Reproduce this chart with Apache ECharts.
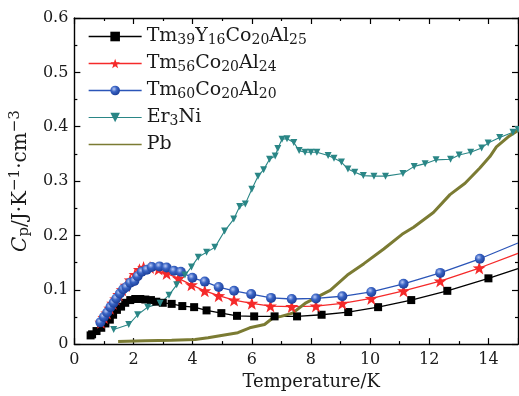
<!DOCTYPE html>
<html>
<head>
    <meta charset="UTF-8">
    <title>Cp</title>
    <script src="https://cdn.jsdelivr.net/npm/echarts@6/dist/echarts.min.js"></script>
    <style>
        html, body { margin: 0; padding: 0; background: #fff; }
        #main { width: 519px; height: 396px; }
    </style>
</head>
<body>
<div id="main"></div>
<script>
    // data, [T(K), Cp]
    var seriesNames = ['Tm39Y16Co20Al25', 'Tm56Co20Al24', 'Tm60Co20Al20', 'Er3Ni', 'Pb'];
    var xTicks = [0, 2, 4, 6, 8, 10, 12, 14];
    var yTicks = [0, 0.1, 0.2, 0.3, 0.4, 0.5, 0.6];

    var tmY = [[0.55, 0.016], [0.6, 0.018], [0.75, 0.024], [0.91, 0.030], [1.05, 0.038], [1.2, 0.045],
        [1.31, 0.054], [1.44, 0.063], [1.58, 0.069], [1.72, 0.076], [1.89, 0.081], [2.06, 0.083],
        [2.23, 0.083], [2.4, 0.082], [2.59, 0.081], [2.77, 0.078], [2.99, 0.076], [3.29, 0.074],
        [3.65, 0.070], [4.05, 0.068], [4.47, 0.062], [4.97, 0.057], [5.5, 0.052], [6.08, 0.051],
        [6.77, 0.051], [7.53, 0.051], [8.36, 0.054], [9.26, 0.059], [10.27, 0.068], [11.39, 0.081],
        [12.61, 0.098], [14.0, 0.121], [15.0, 0.139]];
    var tm56 = [[0.9, 0.040], [1.0, 0.049], [1.1, 0.057], [1.2, 0.066], [1.3, 0.075], [1.4, 0.083],
        [1.5, 0.091], [1.62, 0.100], [1.75, 0.108], [1.89, 0.118], [2.05, 0.128], [2.2, 0.137],
        [2.34, 0.141], [2.56, 0.141], [2.85, 0.138], [3.12, 0.130], [3.52, 0.121], [3.96, 0.109],
        [4.41, 0.098], [4.88, 0.089], [5.4, 0.081], [6.0, 0.075], [6.63, 0.070], [7.35, 0.069],
        [8.17, 0.070], [9.06, 0.075], [10.04, 0.084], [11.13, 0.098], [12.37, 0.116], [13.69, 0.140],
        [15.0, 0.167]];
    var tm60 = [[0.88, 0.040], [1.0, 0.050], [1.11, 0.058], [1.22, 0.068], [1.33, 0.076], [1.42, 0.084],
        [1.54, 0.093], [1.65, 0.101], [1.76, 0.105], [1.89, 0.113], [2.03, 0.116], [2.14, 0.125],
        [2.28, 0.133], [2.45, 0.137], [2.62, 0.142], [2.88, 0.143], [3.12, 0.141], [3.37, 0.135],
        [3.6, 0.133], [3.99, 0.122], [4.41, 0.115], [4.88, 0.105], [5.4, 0.098], [5.98, 0.092],
        [6.65, 0.085], [7.35, 0.083], [8.17, 0.084], [9.06, 0.088], [10.04, 0.096], [11.13, 0.111],
        [12.37, 0.131], [13.71, 0.157], [15.0, 0.186]];
    var er3ni = [[1.33, 0.027], [1.84, 0.036], [2.14, 0.054], [2.48, 0.068], [2.9, 0.075], [3.2, 0.090],
        [3.46, 0.109], [3.74, 0.127], [3.96, 0.142], [4.19, 0.160], [4.47, 0.169], [4.75, 0.178],
        [5.08, 0.208], [5.39, 0.230], [5.59, 0.253], [5.78, 0.258], [6.0, 0.285], [6.21, 0.309],
        [6.4, 0.321], [6.6, 0.340], [6.79, 0.346], [6.88, 0.360], [7.02, 0.377], [7.19, 0.378],
        [7.42, 0.371], [7.6, 0.356], [7.8, 0.353], [8.0, 0.353], [8.2, 0.353], [8.58, 0.347],
        [8.78, 0.342], [9.03, 0.335], [9.25, 0.322], [9.48, 0.316], [9.77, 0.310], [10.13, 0.309],
        [10.52, 0.309], [11.11, 0.314], [11.49, 0.327], [11.86, 0.332], [12.23, 0.339], [12.72, 0.340],
        [13.01, 0.348], [13.4, 0.353], [13.77, 0.361], [13.99, 0.370], [14.38, 0.380], [14.83, 0.390],
        [15.0, 0.395]];
    var pb = [[1.48, 0.005], [2.4, 0.006], [3.29, 0.007], [4.08, 0.0085], [4.52, 0.0115], [4.97, 0.016],
        [5.53, 0.021], [5.93, 0.030], [6.43, 0.036], [6.71, 0.048], [6.99, 0.051], [7.38, 0.057],
        [7.83, 0.076], [8.22, 0.087], [8.65, 0.099], [9.23, 0.127], [9.79, 0.148], [10.46, 0.175],
        [11.08, 0.202], [11.47, 0.215], [12.14, 0.242], [12.7, 0.275], [13.21, 0.296], [13.71, 0.324],
        [14.05, 0.345], [14.27, 0.363], [14.66, 0.381], [15.0, 0.393]];

    var FONT = '"DejaVu Serif", "Liberation Serif", serif';
    var TXT = '#1a1a1a';
    var PB_COLOR = '#7b7b33';

    // last point sits on the frame: line only, no marker
    function noEndMark(arr) {
        return arr.map(function (p, i) {
            return i === arr.length - 1 ? {value: p, symbol: 'none'} : p;
        });
    }

    var blueBall = {
        type: 'radial', x: 0.38, y: 0.35, r: 0.65,
        colorStops: [{offset: 0, color: '#b9c9f5'}, {offset: 0.45, color: '#3a64c4'}, {offset: 1, color: '#1c3f9a'}]
    };

    var tickStyle = {show: true, inside: true, length: 6, lineStyle: {color: '#000', width: 1.2}};
    var minorStyle = {show: true, splitNumber: 2, length: 3, lineStyle: {color: '#000', width: 1.2}};
    var lineAxis = {show: true, onZero: false, lineStyle: {color: '#000', width: 1.4}};

    var option = {
        animation: false,
        backgroundColor: '#fff',
        grid: {left: 72, right: 1, top: 18, bottom: 48},
        legend: {
            orient: 'vertical',
            left: 83, top: 22,
            itemWidth: 53, itemHeight: 12, itemGap: 7,
            lineStyle: {width: 'inherit'},
            data: seriesNames.map(function (n) {
                // Pb has no markers: a flat bar hides inside the thick legend line
                return n === 'Pb' ? {name: n, icon: 'path://M0,0 H40 V1 H0 Z'} : n;
            }),
            formatter: function (name) {
                return name.replace(/(\d+)/g, '{s|$1}');
            },
            textStyle: {
                fontFamily: FONT, fontSize: 19, color: TXT,
                rich: {s: {fontFamily: FONT, fontSize: 14, color: TXT, padding: [7, 0, 0, 0]}}
            }
        },
        xAxis: [{
            type: 'value', min: 0, max: 15, interval: 2,
            name: 'Temperature/K', nameLocation: 'middle', nameGap: 27,
            nameTextStyle: {fontFamily: FONT, fontSize: 18, color: TXT, padding: [0, 0, 0, 30]},
            axisLine: lineAxis, axisTick: tickStyle, minorTick: minorStyle,
            axisLabel: {fontFamily: FONT, fontSize: 16, color: TXT, margin: 8, showMaxLabel: false,
                formatter: function (v) { return xTicks.indexOf(v) >= 0 ? String(v) : ''; }},
            splitLine: {show: false}
        }, {
            type: 'value', min: 0, max: 15, interval: 2, position: 'top',
            axisLine: lineAxis, axisTick: tickStyle, minorTick: minorStyle,
            axisLabel: {show: false}, splitLine: {show: false}
        }],
        yAxis: [{
            type: 'value', min: 0, max: 0.6, interval: 0.1,
            name: '{i|C}{sub|p}/J·K{sup|−1}·cm{sup|−3}', nameLocation: 'middle', nameGap: 32, nameRotate: 90,
            nameTextStyle: {
                fontFamily: FONT, fontSize: 20, color: TXT,
                rich: {
                    i: {fontFamily: FONT, fontSize: 20, fontStyle: 'italic', color: TXT},
                    sub: {fontFamily: FONT, fontSize: 15, color: TXT, padding: [8, 0, 0, 0]},
                    sup: {fontFamily: FONT, fontSize: 15, color: TXT, padding: [0, 0, 10, 0]}
                }
            },
            axisLine: lineAxis, axisTick: tickStyle, minorTick: minorStyle,
            axisLabel: {fontFamily: FONT, fontSize: 16, color: TXT, margin: 6,
                formatter: function (v) {
                    var r = Math.round(v * 10) / 10;
                    return yTicks.indexOf(r) >= 0 ? (r === 0 ? '0' : r.toFixed(1)) : '';
                }},
            splitLine: {show: false}
        }, {
            type: 'value', min: 0, max: 0.6, interval: 0.1, position: 'right',
            axisLine: lineAxis, axisTick: tickStyle, minorTick: minorStyle,
            axisLabel: {show: false}, splitLine: {show: false}
        }],
        series: [{
            name: seriesNames[0], type: 'line', data: noEndMark(tmY),
            symbol: 'rect', symbolSize: 8,
            lineStyle: {color: '#000', width: 1.3}, itemStyle: {color: '#000'}
        }, {
            name: seriesNames[1], type: 'line', data: noEndMark(tm56),
            symbol: 'path://M0,-10 L2.35,-3.24 L9.51,-3.09 L3.8,1.24 L5.88,8.09 L0,4 L-5.88,8.09 L-3.8,1.24 L-9.51,-3.09 L-2.35,-3.24 Z',
            symbolSize: 13,
            lineStyle: {color: '#f52a2a', width: 1.3}, itemStyle: {color: '#f52a2a'}
        }, {
            name: seriesNames[2], type: 'line', data: noEndMark(tm60),
            symbol: 'circle', symbolSize: 10,
            lineStyle: {color: '#2b55b8', width: 1.3}, itemStyle: {color: blueBall}
        }, {
            name: seriesNames[3], type: 'line', data: er3ni,
            symbol: 'triangle', symbolRotate: 180, symbolSize: 7,
            lineStyle: {color: '#2a8686', width: 1.1}, itemStyle: {color: '#2a8686'}
        }, {
            name: seriesNames[4], type: 'line', data: pb,
            symbol: 'none', showSymbol: false,
            lineStyle: {color: PB_COLOR, width: 3}, itemStyle: {color: PB_COLOR}
        }]
    };

    var chart = echarts.init(document.getElementById('main'), null, {renderer: 'canvas'});
    chart.setOption(option);
</script>
</body>
</html>
